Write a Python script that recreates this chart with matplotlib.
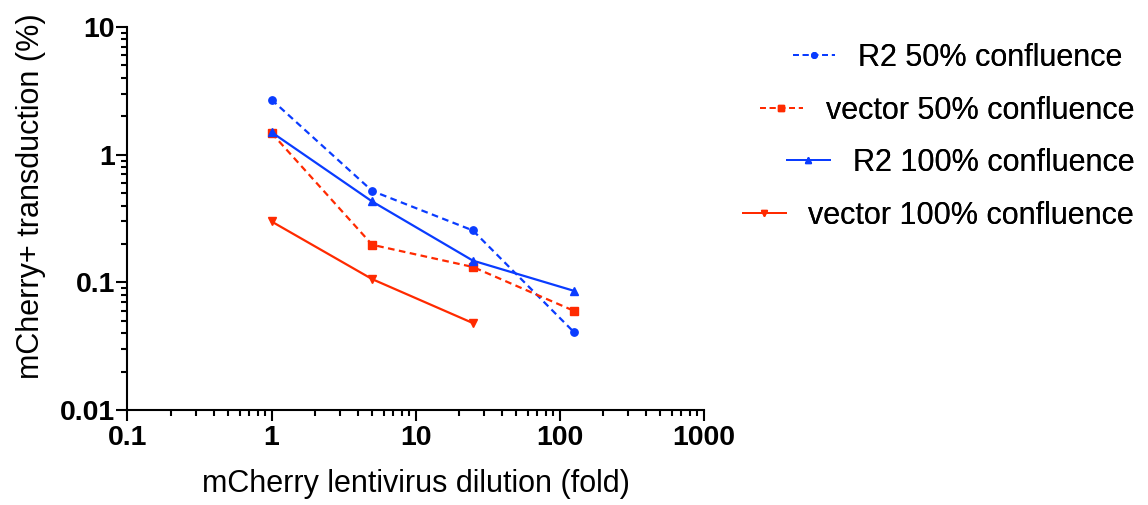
import matplotlib
matplotlib.use('Agg')
import matplotlib.pyplot as plt
from matplotlib.lines import Line2D
from matplotlib.ticker import LogLocator, FuncFormatter, NullFormatter

# data
dilution = [1, 5, 25, 125]
r2_50 = [2.7, 0.52, 0.255, 0.041]
vector_50 = [1.48, 0.197, 0.132, 0.060]
r2_100 = [1.5, 0.43, 0.148, 0.086]
vector_100 = [0.30, 0.106, 0.048]

labels = ['R2 50% confluence', 'vector 50% confluence',
          'R2 100% confluence', 'vector 100% confluence']
blue = '#0a3cff'
red = '#ff2a00'

series = [
    (dilution, r2_50, blue, (0, (3, 2)), 'o', 5.3),
    (dilution, vector_50, red, (0, (3, 2)), 's', 6.0),
    (dilution, r2_100, blue, '-', '^', 6.0),
    (dilution[:3], vector_100, red, '-', 'v', 6.0),
]

plt.rcParams['font.family'] = 'Liberation Sans'

fig = plt.figure(figsize=(11.48, 5.05), dpi=100)
ax = fig.add_axes([0.111, 0.188, 0.502, 0.7585])

for (x, y, c, ls, m, ms) in series:
    ax.plot(x, y, color=c, linestyle=ls, marker=m, markersize=ms, linewidth=1.6)

ax.set_xscale('log')
ax.set_yscale('log')
ax.set_xlim(0.1, 1000)
ax.set_ylim(0.01, 10)

fmt = FuncFormatter(lambda v, p: '%g' % v)
for axis in (ax.xaxis, ax.yaxis):
    axis.set_major_locator(LogLocator(base=10, numticks=10))
    axis.set_minor_locator(LogLocator(base=10, subs=range(2, 10), numticks=10))
    axis.set_major_formatter(fmt)
    axis.set_minor_formatter(NullFormatter())

for s in ['top', 'right']:
    ax.spines[s].set_visible(False)
for s in ['left', 'bottom']:
    ax.spines[s].set_linewidth(1.5)

ax.tick_params(which='major', length=8, width=1.5)
ax.tick_params(axis='x', which='major', pad=3)
ax.tick_params(axis='y', which='major', pad=1)
ax.tick_params(which='minor', length=4, width=1.5)
for t in ax.get_xticklabels() + ax.get_yticklabels():
    t.set_fontweight('bold')
    t.set_fontsize(20.5)

ax.set_xlabel('mCherry lentivirus dilution (fold)', fontsize=22, labelpad=13)
ax.set_ylabel('mCherry+ transduction (%)', fontsize=22, labelpad=10)
ax.yaxis.label.set_y(0.559)

# right-aligned legend rows, one legend per entry
rows_y = [0.885, 0.780, 0.677, 0.572]
rows_x = [0.978, 0.988, 0.988, 0.988]
for i, (x, y, c, ls, m, ms) in enumerate(series):
    h = Line2D([], [], color=c, linestyle=ls, marker=m, markersize=4, linewidth=1.4)
    leg = fig.legend([h], [labels[i]], loc='center right',
                     bbox_to_anchor=(rows_x[i], rows_y[i]), frameon=False,
                     fontsize=22, handlelength=1.4, handletextpad=0.75,
                     borderpad=0, borderaxespad=0)
    fig.add_artist(leg)

fig.savefig('out.png', dpi=100)
